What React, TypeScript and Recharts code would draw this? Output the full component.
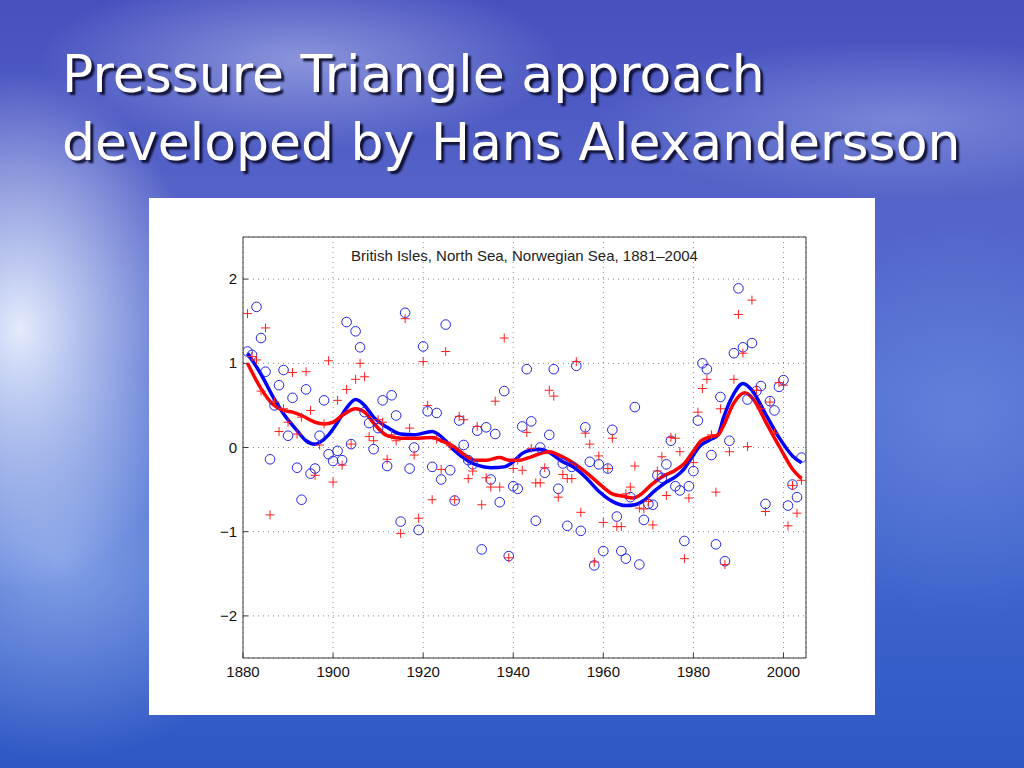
import { CartesianGrid, ComposedChart, Line, Scatter, XAxis, YAxis } from 'recharts';

// years 1881-2004, one circle and one cross per year
const years = [
  1881, 1882, 1883, 1884, 1885, 1886, 1887, 1888, 1889, 1890,
  1891, 1892, 1893, 1894, 1895, 1896, 1897, 1898, 1899, 1900,
  1901, 1902, 1903, 1904, 1905, 1906, 1907, 1908, 1909, 1910,
  1911, 1912, 1913, 1914, 1915, 1916, 1917, 1918, 1919, 1920,
  1921, 1922, 1923, 1924, 1925, 1926, 1927, 1928, 1929, 1930,
  1931, 1932, 1933, 1934, 1935, 1936, 1937, 1938, 1939, 1940,
  1941, 1942, 1943, 1944, 1945, 1946, 1947, 1948, 1949, 1950,
  1951, 1952, 1953, 1954, 1955, 1956, 1957, 1958, 1959, 1960,
  1961, 1962, 1963, 1964, 1965, 1966, 1967, 1968, 1969, 1970,
  1971, 1972, 1973, 1974, 1975, 1976, 1977, 1978, 1979, 1980,
  1981, 1982, 1983, 1984, 1985, 1986, 1987, 1988, 1989, 1990,
  1991, 1992, 1993, 1994, 1995, 1996, 1997, 1998, 1999, 2000,
  2001, 2002, 2003, 2004,
];

const blueValues = [
  1.14, 1.1, 1.67, 1.3, 0.9, -0.14, 0.5, 0.74, 0.92, 0.14,
  0.59, -0.24, -0.62, 0.69, -0.31, -0.25, 0.14, 0.56, -0.08, -0.16,
  -0.04, -0.15, 1.49, 0.04, 1.38, 1.19, 0.42, 0.29, -0.02, 0.23,
  0.56, -0.22, 0.62, 0.38, -0.88, 1.6, -0.25, 0.0, -0.98, 1.2,
  0.43, -0.23, 0.41, -0.38, 1.46, -0.27, -0.63, 0.32, 0.03, -0.15,
  -0.2, 0.2, -1.21, 0.24, -0.38, 0.16, -0.65, 0.67, -1.29, -0.46,
  -0.49, 0.25, 0.93, 0.31, -0.87, 0.0, -0.3, 0.15, 0.93, -0.49,
  -0.19, -0.93, -0.23, 0.97, -0.99, 0.24, -0.17, -1.4, -0.2, -1.23,
  -0.25, 0.21, -0.82, -1.23, -1.32, -0.59, 0.48, -1.39, -0.86, -0.67,
  -0.68, -0.33, -0.36, -0.2, 0.08, -0.46, -0.51, -1.11, -0.46, -0.28,
  0.32, 1.0, 0.93, -0.09, -1.15, 0.6, -1.35, 0.08, 1.12, 1.89,
  1.19, 0.57, 1.24, 0.67, 0.73, -0.67, 0.55, 0.44, 0.72, 0.8,
  -0.69, -0.44, -0.59, -0.12,
];

const redValues = [
  1.59, 1.08, 1.04, 0.67, 1.42, -0.8, 0.54, 0.19, 0.46, 0.3,
  0.89, 0.16, 0.36, 0.9, 0.44, -0.33, 0.03, 0.28, 1.03, -0.41,
  0.56, -0.21, 0.69, 0.04, 0.81, 1.0, 0.84, 0.13, 0.08, 0.33,
  0.3, -0.14, 0.15, 0.08, -1.02, 1.53, 0.23, -0.09, -0.84, 1.02,
  0.5, -0.62, 0.1, -0.26, 1.14, 0.02, -0.62, 0.37, 0.33, -0.37,
  -0.28, 0.25, -0.68, -0.36, -0.47, 0.55, -0.47, 1.3, -1.31, -0.25,
  -0.15, -0.27, 0.18, -0.01, -0.42, -0.42, -0.24, 0.68, 0.61, -0.59,
  -0.32, -0.37, -0.37, 1.02, -0.77, 0.17, 0.04, -1.36, -0.1, -0.89,
  -0.25, 0.11, -0.94, -0.94, -0.55, -0.47, -0.22, -0.72, -0.73, -0.64,
  -0.92, -0.28, -0.11, -0.57, 0.12, 0.11, -0.05, -1.32, -0.6, -0.18,
  0.42, 0.7, 0.81, 0.15, -0.53, 0.46, -1.39, -0.05, 0.81, 1.58,
  1.12, 0.01, 1.75, 0.68, 0.46, -0.76, 0.54, 0.17, 0.77, 0.74,
  -0.93, -0.45, -0.78, -0.39,
];

// smoothed curves at these years
const blueSmoothYears = [
  1881, 1884, 1887, 1889, 1892, 1894, 1896, 1897, 1899, 1901, 1903, 1905, 1907, 1909,
  1912, 1915, 1918, 1922, 1923, 1925, 1927, 1930, 1932, 1935, 1938, 1940, 1942, 1944,
  1946, 1948, 1951, 1953, 1956, 1959, 1962, 1965, 1967, 1969, 1971.5, 1974, 1976, 1978,
  1979.5, 1981.5, 1984, 1985.5, 1986.6, 1989, 1991, 1993, 1996, 1999, 2002, 2004,
];
const blueSmoothValues = [
  1.12, 0.87, 0.57, 0.4, 0.2, 0.08, 0.04, 0.06, 0.15, 0.3, 0.47, 0.57, 0.5, 0.36,
  0.24, 0.16, 0.15, 0.19, 0.17, 0.08, -0.04, -0.16, -0.21, -0.24, -0.23, -0.17, -0.07, -0.03,
  -0.02, -0.06, -0.17, -0.22, -0.35, -0.52, -0.64, -0.69, -0.68, -0.63, -0.51, -0.41, -0.35, -0.25,
  -0.13, 0.02, 0.1, 0.15, 0.34, 0.64, 0.76, 0.68, 0.4, 0.12, -0.1, -0.18,
];

const redSmoothYears = [
  1881, 1884, 1886.5, 1889, 1891, 1893, 1896, 1898, 1900, 1902, 1905, 1907, 1909, 1912,
  1915, 1919, 1922, 1924, 1926.5, 1929, 1931.5, 1934, 1937, 1939, 1941.5, 1943.5, 1945.5, 1948,
  1950.5, 1953.5, 1956.5, 1959.5, 1962, 1964.5, 1966.5, 1968.5, 1970.5, 1973, 1976, 1978, 1980.3, 1981.7,
  1984, 1985.5, 1986.6, 1989, 1991.4, 1993.2, 1996.2, 1999.2, 2002.2, 2004,
];
const redSmoothValues = [
  1.0, 0.7, 0.52, 0.44, 0.42, 0.38, 0.3, 0.28, 0.3, 0.38, 0.46, 0.42, 0.29, 0.14,
  0.11, 0.11, 0.12, 0.08, 0.02, -0.08, -0.15, -0.15, -0.12, -0.15, -0.15, -0.12, -0.08, -0.05,
  -0.1, -0.19, -0.31, -0.45, -0.55, -0.58, -0.6, -0.55, -0.45, -0.35, -0.27, -0.19, -0.02, 0.08,
  0.13, 0.15, 0.25, 0.53, 0.65, 0.58, 0.29, 0.0, -0.27, -0.37,
];

const xTicks = [1880, 1900, 1920, 1940, 1960, 1980, 2000];
const yTicks = [-2, -1, 0, 1, 2];

const bluePoints = years.map((year, i) => ({ year, value: blueValues[i] }));
const redPoints = years.map((year, i) => ({ year, value: redValues[i] }));
const blueSmooth = blueSmoothYears.map((year, i) => ({ year, value: blueSmoothValues[i] }));
const redSmooth = redSmoothYears.map((year, i) => ({ year, value: redSmoothValues[i] }));

const axisColor = '#3a3a3a';
const labelFont = '"Liberation Sans", Arial, sans-serif';

const fmt = (v: number) => (v < 0 ? '\u2212' + Math.abs(v) : String(v));

const BottomTick = ({ x, y, payload }: any) => (
  <g>
    <line x1={x} x2={x} y1={y} y2={y - 5} stroke={axisColor} />
    <text x={x} y={y + 19} textAnchor="middle" fontSize={15} fontFamily={labelFont} fill="#111">
      {payload.value}
    </text>
  </g>
);
const LeftTick = ({ x, y, payload }: any) => (
  <g>
    <line x1={x} x2={x + 5} y1={y} y2={y} stroke={axisColor} />
    <text x={x - 6} y={y + 5} textAnchor="end" fontSize={15} fontFamily={labelFont} fill="#111">
      {fmt(payload.value)}
    </text>
  </g>
);

const Ring = ({ cx, cy }: any) => (
  <circle cx={cx} cy={cy} r={4.8} fill="none" stroke="#2424e8" strokeWidth={1} />
);
const Cross = ({ cx, cy }: any) => (
  <path d={`M${cx - 4.5},${cy}H${cx + 4.5}M${cx},${cy - 4.5}V${cy + 4.5}`} stroke="#ff2020" strokeWidth={1} />
);

export default function App() {
  return (
    <div
      style={{
        position: 'absolute',
        left: 0,
        top: 0,
        width: 1024,
        height: 768,
        overflow: 'hidden',
        background: [
          'radial-gradient(ellipse 180px 260px at 20px 330px, rgba(235,242,255,0.95), rgba(235,242,255,0) 100%)',
          'radial-gradient(ellipse 260px 90px at 300px 60px, rgba(190,200,240,0.55), rgba(190,200,240,0) 100%)',
          'radial-gradient(ellipse 300px 80px at 900px 120px, rgba(170,185,240,0.45), rgba(170,185,240,0) 100%)',
          'radial-gradient(ellipse 220px 200px at 60px 560px, rgba(160,185,240,0.7), rgba(160,185,240,0) 100%)',
          'radial-gradient(ellipse 200px 200px at 960px 420px, rgba(120,150,230,0.5), rgba(120,150,230,0) 100%)',
          'linear-gradient(180deg, #4650bf 0%, #5563c8 25%, #4e6bd0 50%, #3e64cc 75%, #2f58c4 100%)',
        ].join(','),
      }}
    >
      <div
        style={{
          position: 'absolute',
          left: 62,
          top: 40,
          color: '#fff',
          fontFamily: '"DejaVu Sans", sans-serif',
          fontSize: 52,
          lineHeight: '68px',
          whiteSpace: 'nowrap',
          textShadow: '3px 3px 2px rgba(10,10,40,0.9)',
        }}
      >
        <div>Pressure Triangle approach</div>
        <div>developed by Hans Alexandersson</div>
      </div>
      <div style={{ position: 'absolute', left: 149, top: 198, width: 726, height: 517, background: '#fff' }}>
        <ComposedChart width={726} height={517} margin={{ top: 19, right: 49, bottom: 0, left: 0 }}>
          <CartesianGrid stroke="#8a8a8a" strokeDasharray="1 4" />
          <XAxis
            dataKey="year"
            type="number"
            domain={[1880, 2005]}
            ticks={xTicks}
            allowDataOverflow
            height={57}
            tickSize={0}
            tickMargin={0}
            tickLine={false}
            axisLine={{ stroke: axisColor }}
            tick={<BottomTick />}
            interval={0}
          />
          <XAxis
            xAxisId="top"
            orientation="top"
            dataKey="year"
            type="number"
            domain={[1880, 2005]}
            ticks={xTicks}
            allowDataOverflow
            height={20}
            tickSize={-5}
            tickMargin={0}
            tick={false}
            stroke={axisColor}
            interval={0}
          />
          <YAxis
            type="number"
            domain={[-2.5, 2.5]}
            ticks={yTicks}
            allowDataOverflow
            width={94}
            tickSize={0}
            tickMargin={0}
            tickLine={false}
            axisLine={{ stroke: axisColor }}
            tick={<LeftTick />}
            interval={0}
          />
          <YAxis
            yAxisId="right"
            orientation="right"
            type="number"
            domain={[-2.5, 2.5]}
            ticks={yTicks}
            allowDataOverflow
            width={20}
            tickSize={-5}
            tickMargin={0}
            tick={false}
            stroke={axisColor}
            interval={0}
          />
          <Scatter data={bluePoints} dataKey="value" shape={<Ring />} isAnimationActive={false} />
          <Scatter data={redPoints} dataKey="value" shape={<Cross />} isAnimationActive={false} />
          {/* invisible copy so the top and right frame axes are drawn */}
          <Line
            xAxisId="top"
            yAxisId="right"
            data={blueSmooth}
            dataKey="value"
            stroke="none"
            dot={false}
            activeDot={false}
            isAnimationActive={false}
          />
          <Line
            data={blueSmooth}
            dataKey="value"
            type="monotone"
            stroke="#0000ff"
            strokeWidth={3.5}
            dot={false}
            activeDot={false}
            isAnimationActive={false}
          />
          <Line
            data={redSmooth}
            dataKey="value"
            type="monotone"
            stroke="#ff0000"
            strokeWidth={3.5}
            dot={false}
            activeDot={false}
            isAnimationActive={false}
          />
        </ComposedChart>
        <div
          style={{
            position: 'absolute',
            left: 94,
            width: 563,
            top: 49,
            textAlign: 'center',
            fontFamily: labelFont,
            fontSize: 15,
            color: '#222',
          }}
        >
          British Isles, North Sea, Norwegian Sea, 1881–2004
        </div>
      </div>
    </div>
  );
}
